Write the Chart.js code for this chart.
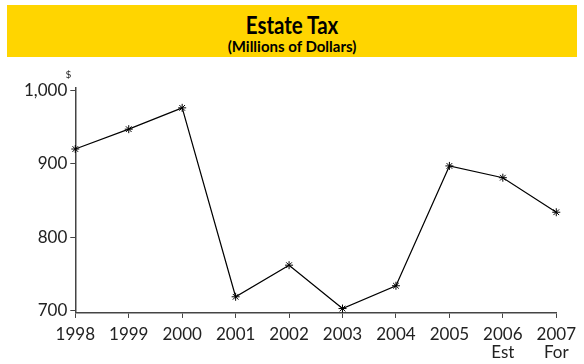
<!DOCTYPE html>
<html>
<head>
<meta charset="utf-8">
<script src="https://cdn.jsdelivr.net/npm/chart.js@4/dist/chart.umd.min.js"></script>
<style>
  body { margin: 0; background: #fff; font-family: Lato, sans-serif; overflow: hidden; }
  #band { position: absolute; left: 7px; top: 5px; width: 570px; height: 52px; background: #FFD500; text-align: center; }
  #band .t { font-weight: bold; font-size: 25px; line-height: 26px; padding-top: 6px; color: #000; transform: scaleX(0.82); }
  #band .s { font-weight: bold; font-size: 15px; line-height: 18px; color: #000; }
  #wrap { position: absolute; left: 0; top: 60px; width: 584px; height: 310px; }
</style>
</head>
<body>
<div id="band"><div class="t">Estate Tax</div><div class="s">(Millions of Dollars)</div></div>
<div id="wrap"><canvas id="chart"></canvas></div>
<script>
// values
const years = [['1998'], ['1999'], ['2000'], ['2001'], ['2002'], ['2003'], ['2004'], ['2005'], ['2006', 'Est'], ['2007', 'For']]
const estateTax = [920, 947, 976, 719, 762, 703, 734, 897, 881, 834]
const yTicks = [700, 800, 900, 1000]

const dollarSign = {
  id: 'dollarSign',
  afterDraw(chart) {
    let ctx = chart.ctx
    let y = chart.scales.y
    ctx.save()
    ctx.font = '10px Lato, sans-serif'
    ctx.fillStyle = '#222'
    ctx.textAlign = 'right'
    ctx.fillText('$', y.right - 4, chart.chartArea.top - 10)
    ctx.restore()
  }
}

new Chart(document.getElementById('chart'), {
  type: 'line',
  data: {
    labels: years,
    datasets: [{
      data: estateTax,
      borderColor: '#000',
      borderWidth: 1.2,
      pointStyle: 'star',
      pointRadius: 4,
      pointBorderColor: '#000',
      pointBorderWidth: 1,
      tension: 0,
      fill: false
    }]
  },
  options: {
    responsive: true,
    maintainAspectRatio: false,
    animation: false,
    layout: { padding: { top: 28, right: 14, left: 21, bottom: 0 } },
    plugins: { legend: { display: false }, tooltip: { enabled: false } },
    scales: {
      x: {
        offset: false,
        grid: { drawOnChartArea: false, drawTicks: true, tickLength: 5, color: '#444' },
        border: { color: '#444', width: 1.5 },
        ticks: { color: '#222', font: { family: 'Lato', size: 17, lineHeight: 1.06 }, maxRotation: 0, autoSkip: false, padding: 8 }
      },
      y: {
        min: 697,
        max: 1003,
        afterBuildTicks: scale => { scale.ticks = yTicks.map(v => ({ value: v })) },
        grid: { drawOnChartArea: false, drawTicks: true, tickLength: 5, color: '#444' },
        border: { color: '#444', width: 1.5 },
        ticks: { color: '#222', font: { family: 'Lato', size: 17 }, padding: 3, callback: v => v.toLocaleString('en-US') }
      }
    }
  },
  plugins: [dollarSign]
})
</script>
</body>
</html>
